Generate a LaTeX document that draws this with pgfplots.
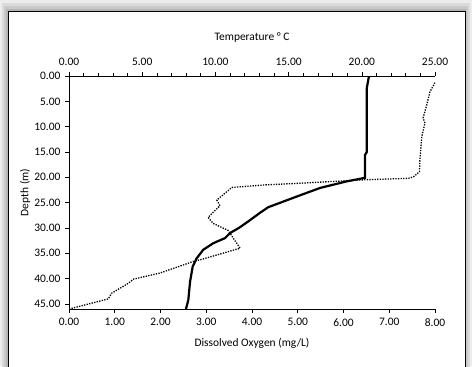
\documentclass[border=0pt]{standalone}
\usepackage{pgfplots}
\pgfplotsset{compat=1.18}
\usepackage{fontspec}
\setmainfont{Carlito}
\begin{document}
\begin{tikzpicture}[x=1bp,y=1bp]
\begin{scope}
\clip (-69,-57) rectangle (403,309);
\fill[gray!15] (-69,-57) rectangle (403,309);
\fill[gray!28] (-67,-70) rectangle (401,306);
\fill[gray!42] (-65,-70) rectangle (399,303);
\fill[gray!58] (-63,-70) rectangle (397,300);
\filldraw[fill=white, draw=black, line width=0.8bp] (-61,-70) rectangle (396,298);
\end{scope}
\pgfplotsset{
  common/.style={
    width=366bp, height=233bp, scale only axis,
    ymin=0, ymax=46, y dir=reverse,
    font=\fontsize{11.5}{13}\selectfont,
    tick align=outside,
    major tick length=4bp, minor tick length=3bp,
    every tick/.style={black, line width=0.6bp},
    axis line style={black, line width=0.8bp},
    scaled ticks=false,
    /pgf/number format/.cd, fixed, fixed zerofill, precision=2, assume math mode=true,
  }
}
\begin{axis}[common,
  xmin=0, xmax=8,
  axis x line*=bottom, axis y line*=left,
  xtick={0,1,...,8}, ytick={0,5,...,45},
  xlabel={Dissolved Oxygen (mg/L)},
  ylabel={Depth (m)},
  xticklabel style={yshift=-2bp},
  yticklabel style={xshift=-1bp},
  xlabel style={at={(axis description cs:0.5,-0.146)}, anchor=center},
  ylabel style={at={(axis description cs:-0.12,0.5)}, anchor=center, rotate=0},
]
\addplot[black, line width=1.3bp, dash pattern=on 1.3bp off 1.3bp] coordinates {
(8.0,1.3) (7.89,3.1) (7.82,5.7) (7.74,8.3) (7.78,9.3) (7.71,12.0) (7.67,16.6) (7.66,18.9) (7.53,19.9) (7.42,20.2) (6.43,20.5) (4.98,21.2) (4.28,21.5) (3.56,22.0) (3.23,24.5) (3.30,25.6) (3.04,27.9) (3.15,29.1) (3.48,30.5) (3.59,32.0) (3.74,34.0) (2.90,36.2) (2.72,36.6) (1.99,38.9) (1.41,40.1) (1.30,40.9) (0.93,42.9) (0.86,44.0) (0.0,46.0)
};
\end{axis}
\begin{axis}[common,
  xmin=0, xmax=25,
  axis x line*=top, axis y line=none,
  xtick={0,5,...,25}, minor xtick={0,1,...,25},
  xticklabel style={yshift=3bp},
  xlabel={Temperature ° C},
  xlabel style={at={(axis description cs:0.5,1.167)}, anchor=center},
]
\addplot[black, line width=2.2bp] coordinates {
(20.49,0) (20.34,2.4) (20.34,15) (20.22,15.6) (20.22,20.1) (18.97,20.8) (17.15,22.1) (15.55,23.8) (13.61,25.9) (13.05,27.0) (12.2,28.8) (11.6,30.0) (11.0,31.0) (10.66,32.0) (9.86,33.0) (9.17,34.3) (8.72,36.0) (8.45,37.6) (8.27,40.6) (8.15,44.2) (7.99,46)
};
\end{axis}
\pgfresetboundingbox
\useasboundingbox (-69,-57) rectangle (403,309);
\end{tikzpicture}
\end{document}
